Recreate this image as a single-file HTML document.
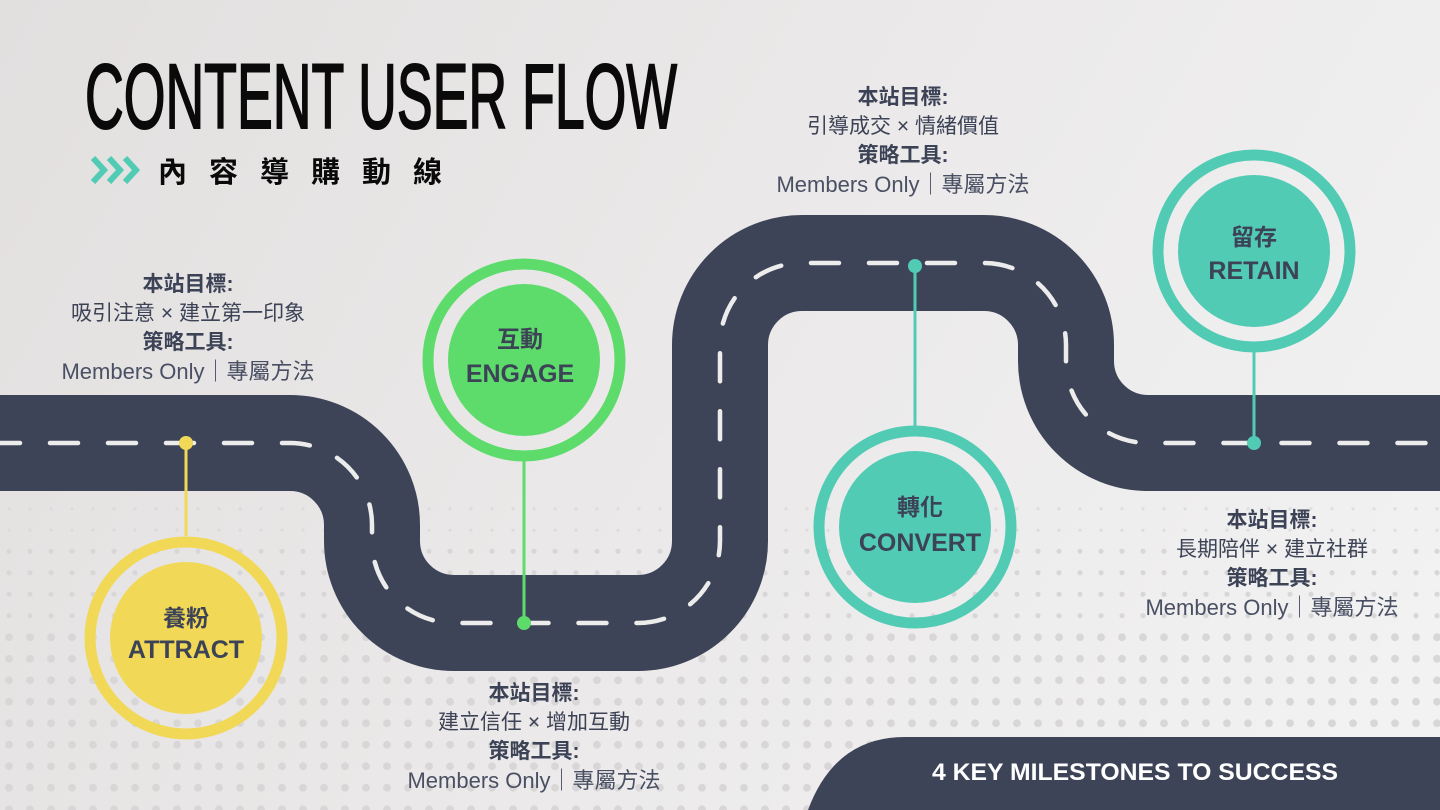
<!DOCTYPE html>
<html><head><meta charset="utf-8"><style>
html,body{margin:0;padding:0}
body{width:1440px;height:810px;overflow:hidden;position:relative;background:linear-gradient(120deg,#e2dfdf 0%,#ebe9e9 50%,#f3f3f3 100%);font-family:"Liberation Sans","Noto Sans CJK TC",sans-serif;color:#3d4356}
.dots{position:absolute;left:0;width:1440px;background-image:radial-gradient(circle,#d8d6d6 var(--r),transparent calc(var(--r) + 0.7px));background-size:21px 21.5px;background-position:-1.5px 0}
.blk{position:absolute;text-align:center;font-size:21px;line-height:29px;width:440px;margin-left:-220px}
.blk b{font-weight:bold}
.blk .m{color:#4a5064;font-size:22px}
</style></head><body>
<div class="dots" style="top:498px;height:50px;--r:1.3px;opacity:.7"></div>
<div class="dots" style="top:541px;height:86px;--r:2.2px;background-position:-1.5px -0.5px"></div>
<div class="dots" style="top:627px;height:183px;--r:3.5px;background-position:-1.5px -0.5px"></div>
<svg width="1440" height="810" style="position:absolute;left:0;top:0" xmlns="http://www.w3.org/2000/svg">
<path d="M-10 443 H290 A82 82 0 0 1 372 525 V541 A82 82 0 0 0 454 623 H638 A82 82 0 0 0 720 541 V345 A82 82 0 0 1 802 263 H984 A82 82 0 0 1 1066 345 V361 A82 82 0 0 0 1148 443 H1450" fill="none" stroke="#3e4458" stroke-width="96"/>
<path d="M-10 443 H290 A82 82 0 0 1 372 525 V541 A82 82 0 0 0 454 623 H638 A82 82 0 0 0 720 541 V345 A82 82 0 0 1 802 263 H984 A82 82 0 0 1 1066 345 V361 A82 82 0 0 0 1148 443 H1450" fill="none" stroke="#ececec" stroke-width="4.5" stroke-linecap="round" stroke-dasharray="28 30" stroke-dashoffset="-2"/>
<path d="M808 810 Q835 737 905 737 H1440 V810 Z" fill="#3e4458"/>
<text x="1135" y="780" fill="#fff" font-family="Liberation Sans" font-weight="bold" font-size="24" text-anchor="middle" textLength="406" lengthAdjust="spacingAndGlyphs">4 KEY MILESTONES TO SUCCESS</text>
<text x="85" y="128" fill="#0a0a0a" stroke="#0a0a0a" stroke-width="2" font-family="Liberation Sans" font-size="92" textLength="592" lengthAdjust="spacingAndGlyphs">CONTENT USER FLOW</text>
<g fill="none" stroke="#52cbb5" stroke-width="6">
<path d="M93 158 L104 170 L93 182"/><path d="M109 158 L120 170 L109 182"/><path d="M125 158 L136 170 L125 182"/></g>
<text x="158" y="182" fill="#0a0a0a" font-family="Noto Sans CJK TC,sans-serif" font-weight="bold" font-size="29" letter-spacing="22">內容導購動線</text>
<g stroke-width="3">
<line x1="186" y1="443" x2="186" y2="536" stroke="#f2d857"/>
<line x1="524" y1="455" x2="524" y2="623" stroke="#5ddc6c"/>
<line x1="915" y1="266" x2="915" y2="426" stroke="#52cbb5"/>
<line x1="1254" y1="346" x2="1254" y2="443" stroke="#52cbb5"/>
</g>
<circle cx="186" cy="443" r="7" fill="#f2d857"/>
<circle cx="524" cy="623" r="7" fill="#5ddc6c"/>
<circle cx="915" cy="266" r="7" fill="#52cbb5"/>
<circle cx="1254" cy="443" r="7" fill="#52cbb5"/>
<g font-family="Liberation Sans,Noto Sans CJK TC,sans-serif" font-weight="bold" fill="#3d4356" text-anchor="middle">
<circle cx="186" cy="638" r="96" fill="none" stroke="#f2d857" stroke-width="11"/><circle cx="186" cy="638" r="76" fill="#f2d857"/>
<text x="186" y="626" font-size="23">養粉</text><text x="186" y="658" font-size="25">ATTRACT</text>
<circle cx="524" cy="360" r="96" fill="none" stroke="#5ddc6c" stroke-width="11"/><circle cx="524" cy="360" r="76" fill="#5ddc6c"/>
<text x="520" y="347" font-size="23">互動</text><text x="520" y="382" font-size="25">ENGAGE</text>
<circle cx="915" cy="527" r="96" fill="none" stroke="#52cbb5" stroke-width="11"/><circle cx="915" cy="527" r="76" fill="#52cbb5"/>
<text x="920" y="515" font-size="23">轉化</text><text x="920" y="551" font-size="25">CONVERT</text>
<circle cx="1254" cy="251" r="96" fill="none" stroke="#52cbb5" stroke-width="11"/><circle cx="1254" cy="251" r="76" fill="#52cbb5"/>
<text x="1254" y="245" font-size="23">留存</text><text x="1254" y="279" font-size="25">RETAIN</text>
</g>
</svg>
<div class="blk" style="left:188px;top:270px"><b>本站目標:</b><br>吸引注意 × 建立第一印象<br><b>策略工具:</b><br><span class="m">Members Only｜專屬方法</span></div>
<div class="blk" style="left:534px;top:679px"><b>本站目標:</b><br>建立信任 × 增加互動<br><b>策略工具:</b><br><span class="m">Members Only｜專屬方法</span></div>
<div class="blk" style="left:903px;top:83px"><b>本站目標:</b><br>引導成交 × 情緒價值<br><b>策略工具:</b><br><span class="m">Members Only｜專屬方法</span></div>
<div class="blk" style="left:1272px;top:506px"><b>本站目標:</b><br>長期陪伴 × 建立社群<br><b>策略工具:</b><br><span class="m">Members Only｜專屬方法</span></div>
</body></html>
